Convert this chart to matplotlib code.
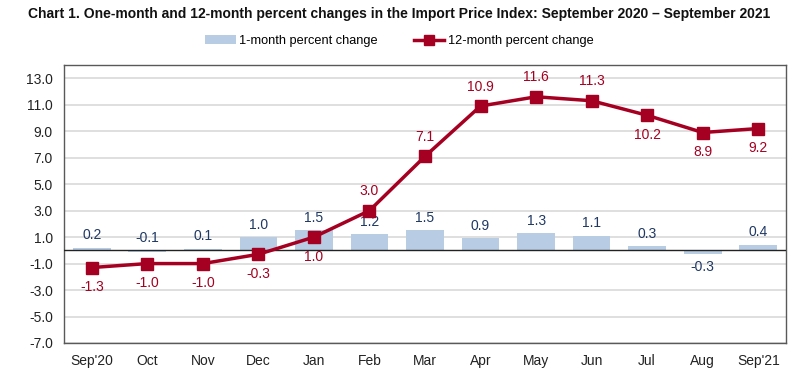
import matplotlib
matplotlib.use('Agg')
import matplotlib.pyplot as plt
from matplotlib.lines import Line2D
from matplotlib.patches import Patch

months = ["Sep'20", "Oct", "Nov", "Dec", "Jan", "Feb", "Mar", "Apr", "May", "Jun", "Jul", "Aug", "Sep'21"]
one_month = [0.2, -0.1, 0.1, 1.0, 1.5, 1.2, 1.5, 0.9, 1.3, 1.1, 0.3, -0.3, 0.4]
twelve_month = [-1.3, -1.0, -1.0, -0.3, 1.0, 3.0, 7.1, 10.9, 11.6, 11.3, 10.2, 8.9, 9.2]
# where each 12-month label sits relative to its marker
line_label_above = [False, False, False, False, False, True, True, True, True, True, False, False, False]
bar_label_below = [False, False, False, False, False, False, False, False, False, False, False, True, False]

bar_color = '#b8cce4'
line_color = '#a50021'
bar_text = '#1f3864'

plt.rcParams['font.family'] = ['Liberation Sans', 'DejaVu Sans']

fig = plt.figure(figsize=(7.99, 3.84), dpi=100)
ax = fig.add_axes([64 / 799, 1 - 343 / 384, 722 / 799, 278 / 384])

x = range(len(months))
ax.bar(x, one_month, width=0.68, color=bar_color, zorder=2)
ax.plot(x, twelve_month, color=line_color, lw=2.5, marker='s', ms=8.5, zorder=4)
ax.axhline(0, color='#222222', lw=1.0, zorder=3)

for i, (b, l) in enumerate(zip(one_month, twelve_month)):
    if bar_label_below[i]:
        ax.annotate(f"{b:.1f}", (i, b), xytext=(0, -4), textcoords='offset points',
                    ha='center', va='top', fontsize=10, color=bar_text)
    else:
        ax.annotate(f"{b:.1f}", (i, max(b, 0)), xytext=(0, 4), textcoords='offset points',
                    ha='center', va='bottom', fontsize=10, color=bar_text)
    if line_label_above[i]:
        ax.annotate(f"{l:.1f}", (i, l), xytext=(0, 9), textcoords='offset points',
                    ha='center', va='bottom', fontsize=10, color=line_color)
    else:
        ax.annotate(f"{l:.1f}", (i, l), xytext=(0, -9), textcoords='offset points',
                    ha='center', va='top', fontsize=10, color=line_color)

ax.set_xlim(-0.5, len(months) - 0.5)
ax.set_ylim(-7, 14)
ax.set_yticks([-7, -5, -3, -1, 1, 3, 5, 7, 9, 11, 13])
ax.set_yticklabels([f"{v:.1f}" for v in [-7, -5, -3, -1, 1, 3, 5, 7, 9, 11, 13]])
ax.set_xticks(list(x))
ax.set_xticklabels(months)
ax.tick_params(axis='both', length=0, labelsize=10, colors='#222222', pad=8)
ax.grid(axis='y', color='#d9d9d9', lw=1.2, zorder=0)
ax.set_axisbelow(True)
for s in ax.spines.values():
    s.set_color('#595959')
    s.set_linewidth(1.0)

fig.text(0.5, 1 - 14 / 384, "Chart 1. One-month and 12-month percent changes in the Import Price Index: September 2020 \u2013 September 2021",
         ha='center', va='center', fontsize=10.0, fontweight='bold', color='#111111')

handles = [Patch(facecolor=bar_color, edgecolor='none'),
           Line2D([], [], color=line_color, lw=2.5, marker='s', ms=7)]
fig.legend(handles, ['1-month percent change', '12-month percent change'],
           loc='center', bbox_to_anchor=(0.5, 1 - 41 / 384), ncol=2, frameon=False,
           fontsize=9.2, handlelength=2.4, columnspacing=2.8, handletextpad=0.3)

fig.savefig('out.png', dpi=100)
